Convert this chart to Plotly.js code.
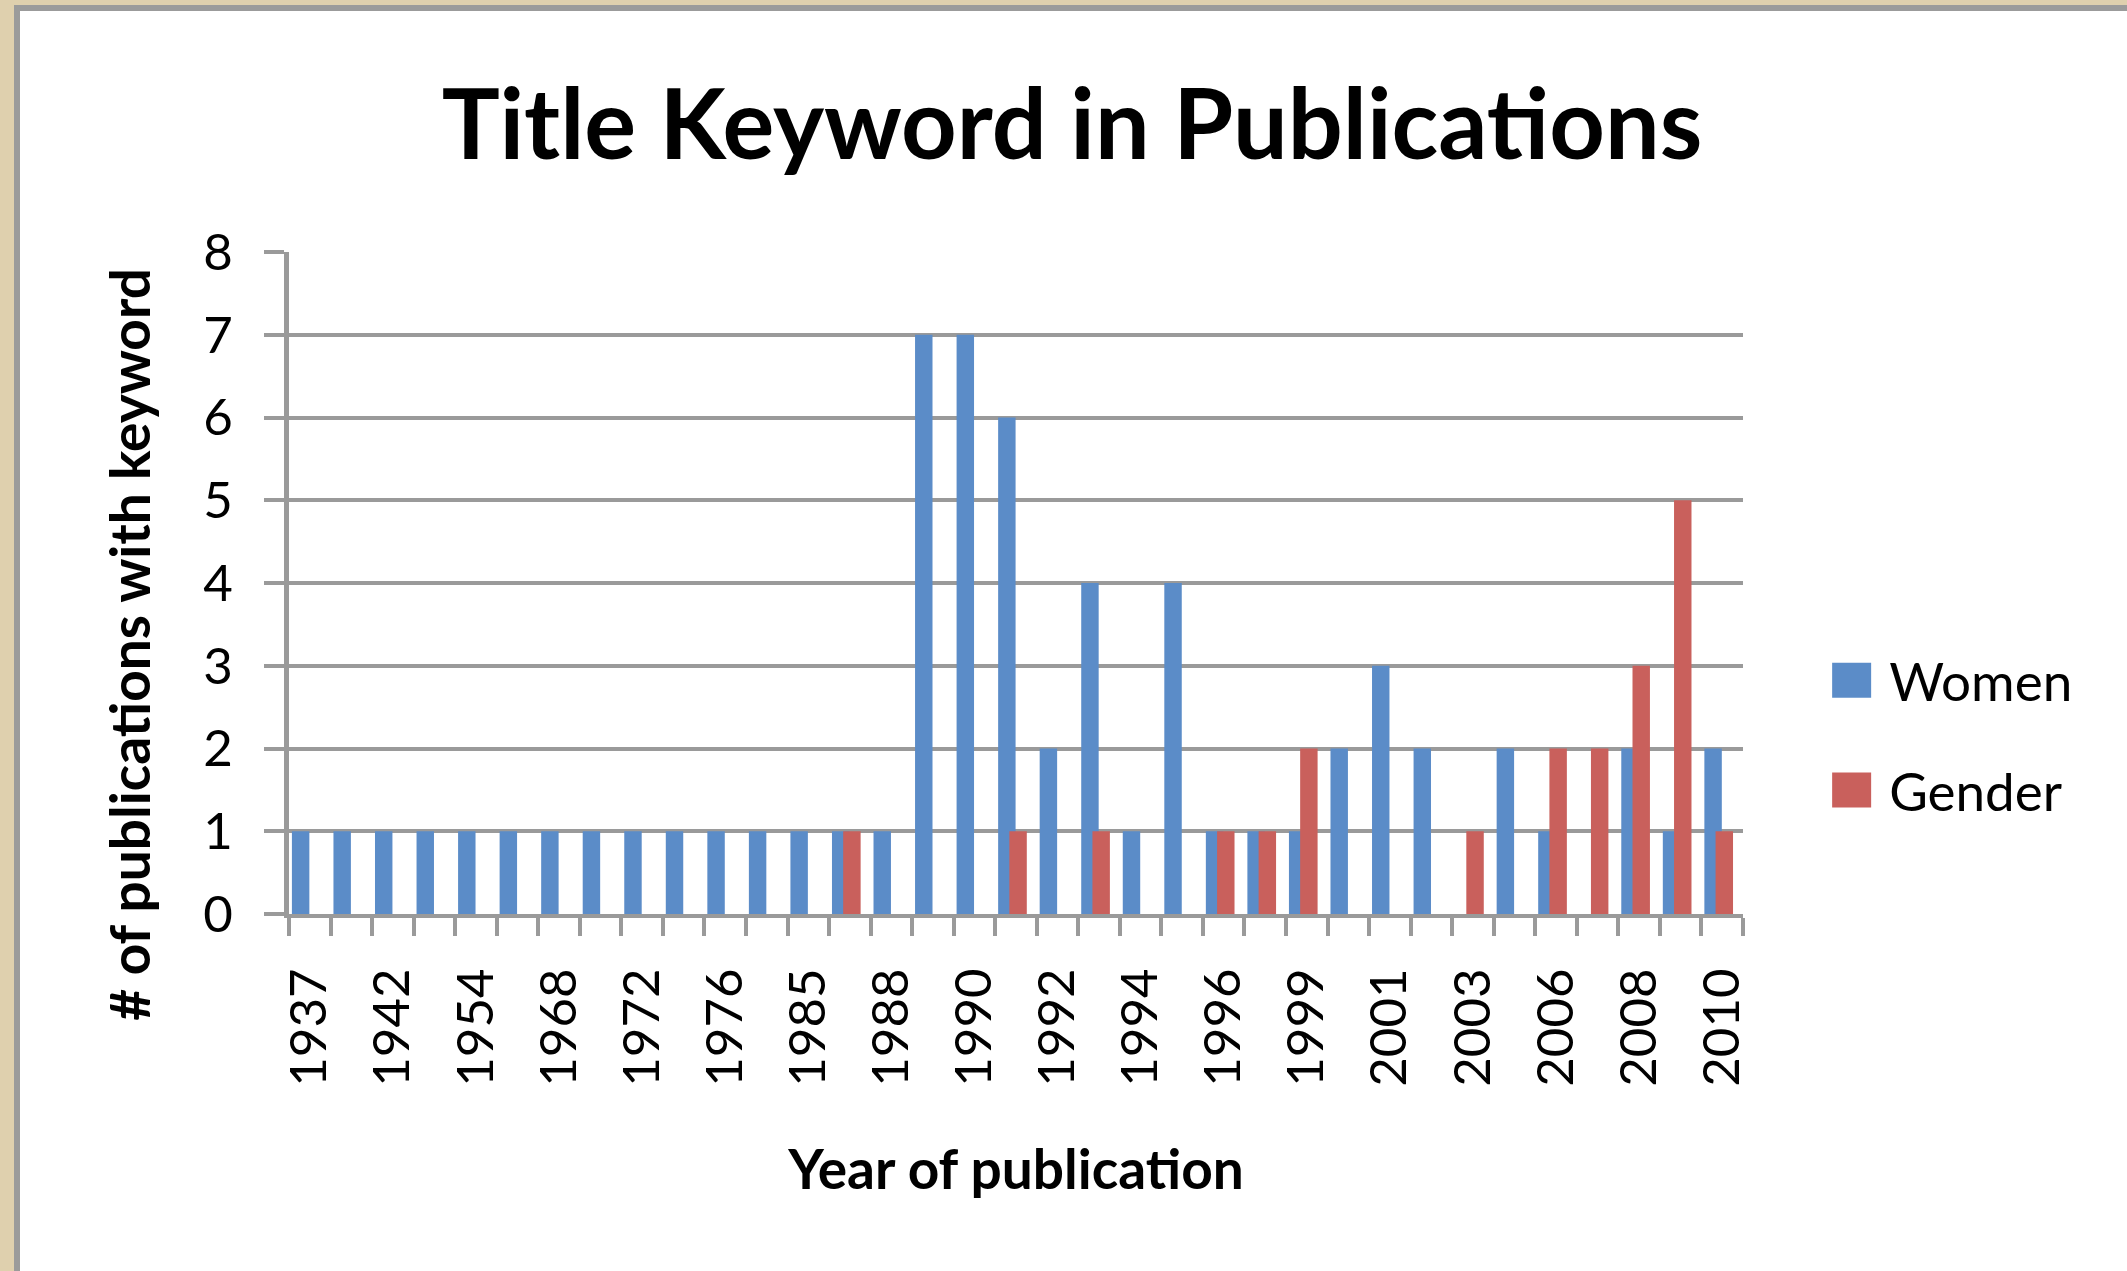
<!DOCTYPE html>
<html>
<head>
<meta charset="utf-8">
<script src="https://cdn.plot.ly/plotly-3.0.1.min.js"></script>
<style>
  html, body { margin: 0; padding: 0; width: 2127px; height: 1271px; overflow: hidden; background: #dfd0ae; }
  #frame { position: absolute; left: 14px; top: 5px; width: 2113px; height: 1266px; box-sizing: border-box;
           border-left: 6px solid #9b9b9b; border-top: 6px solid #9b9b9b; background: #ffffff; }
  #chart { position: absolute; left: 0; top: 0; width: 2127px; height: 1271px; }
</style>
</head>
<body>
<div id="frame"></div>
<div id="chart"></div>
<script>
// Categories (years of publication); only every other one is labelled on the axis
const years = ["1937","1940","1942","1950","1954","1960","1968","1970","1972","1974",
               "1976","1980","1985","1987","1988","1989","1990","1991","1992","1993",
               "1994","1995","1996","1998","1999","2000","2001","2002","2003","2005",
               "2006","2007","2008","2009","2010"];
const tickLabels = ["1937","","1942","","1954","","1968","","1972","",
                    "1976","","1985","","1988","","1990","","1992","",
                    "1994","","1996","","1999","","2001","","2003","",
                    "2006","","2008","","2010"];
const women  = [1,1,1,1,1,1,1,1,1,1, 1,1,1,1,1,7,7,6,2,4, 1,4,1,1,1,2,3,2,0,2, 1,0,2,1,2];
const gender = [0,0,0,0,0,0,0,0,0,0, 0,0,0,1,0,0,0,1,0,1, 0,0,1,1,2,0,0,0,1,0, 2,2,3,5,1];

const FONT = "Lato, 'Open Sans', sans-serif";
const GRID = "#9a9a9a";

const traces = [
  { type: "bar", name: "Women", x: years, y: women,
    offset: -0.43, width: 0.42, legendgroup: "w",
    marker: { color: "#5b8cc8", line: { width: 0 } } },
  { type: "bar", name: "Gender", x: years, y: gender,
    offset: -0.16, width: 0.42, legendgroup: "g",
    marker: { color: "#c9605c", line: { width: 0 } } }
];

const layout = {
  width: 2127, height: 1271,
  paper_bgcolor: "rgba(0,0,0,0)", plot_bgcolor: "rgba(0,0,0,0)",
  margin: { l: 289, r: 384, t: 252, b: 357 },
  barmode: "overlay",
  font: { family: FONT, color: "#000000", size: 50 },
  title: { text: "Title Keyword in Publications", xref: "container", x: 0.504, xanchor: "center",
           yref: "container", y: 0.902, yanchor: "middle",
           font: { family: FONT, size: 97, weight: 700, color: "#000" } },
  xaxis: {
    type: "category", tickmode: "array", tickvals: years, ticktext: tickLabels,
    tickson: "boundaries", ticks: "outside", ticklen: 18, tickwidth: 4, tickcolor: GRID,
    tickangle: -90, tickfont: { size: 51 }, ticklabelstandoff: 30,
    showline: true, linecolor: GRID, linewidth: 4, showgrid: false, zeroline: false,
    title: { text: "Year of publication", font: { size: 55, weight: 700 }, standoff: 66 }
  },
  yaxis: {
    range: [0, 8], tickvals: [0,1,2,3,4,5,6,7,8], ticks: "outside", ticklen: 20, tickwidth: 4,
    tickcolor: GRID, tickfont: { size: 51 }, ticklabelstandoff: 21,
    showline: true, linecolor: GRID, linewidth: 5, showgrid: true, gridcolor: GRID, gridwidth: 4,
    zeroline: false
  },
  annotations: [
    { text: "# of publications with keyword", xref: "paper", yref: "paper",
      x: -0.110, y: 0.407, xanchor: "center", yanchor: "middle", textangle: -90,
      showarrow: false, font: { family: FONT, size: 55, weight: 700, color: "#000" } }
  ],
  showlegend: true,
  legend: { x: 1.073, xanchor: "left", y: 0.27, yanchor: "middle", traceorder: "grouped",
            tracegroupgap: 38, font: { size: 53 }, bgcolor: "rgba(0,0,0,0)" }
};

Plotly.newPlot("chart", traces, layout, { displayModeBar: false, staticPlot: true }).then(function () {
  document.querySelectorAll(".legend .scrollbox, .legend").forEach(function (g) {
    g.removeAttribute("clip-path");
  });
  document.querySelectorAll(".legend .traces").forEach(function (item) {
    const txt = item.querySelector("text.legendtext");
    const tx = txt ? parseFloat(txt.getAttribute("x")) || 40 : 40;
    item.querySelectorAll(".legendpoints path").forEach(function (p) {
      p.setAttribute("d", "M19.5,17.5H-19.5V-17.5H19.5Z");
      p.setAttribute("transform", "translate(" + (tx - 18 - 19.5) + ",0)");
    });
  });
});
</script>
</body>
</html>
